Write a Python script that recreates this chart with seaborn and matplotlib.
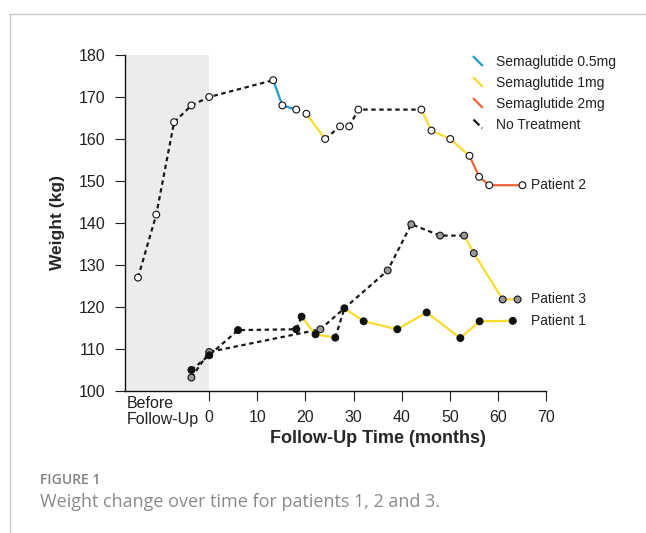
import pandas as pd
import matplotlib
matplotlib.use("Agg")
import matplotlib.pyplot as plt
import seaborn as sns
from matplotlib.lines import Line2D
from matplotlib.legend_handler import HandlerBase

# Weight (kg) per visit; months < 0 are the "before follow-up" visits.
# treat = treatment on each interval between two visits (None = no line drawn)
p1_months = [-3.7, 0, 6.0, 18.1, 19.2, 22.1, 26.2, 28.1, 32.1, 39.1, 45.2, 52.2, 56.2, 63.1]
p1_weight = [105, 108.5, 114.5, 114.7, 117.7, 113.5, 112.7, 119.7, 116.6, 114.7, 118.7, 112.6, 116.6, 116.7]
p1_treat = ["none", "none", "none", "none", "1mg", "1mg", "none",
            "1mg", "1mg", "1mg", "1mg", "1mg", "1mg"]

p2_months = [-14.8, -11.0, -7.3, -3.7, 0, 13.3, 15.2, 18.1, 20.2, 24.1, 27.2, 29.1,
             31.0, 44.1, 46.2, 50.1, 54.1, 56.1, 58.2, 65.1]
p2_weight = [127, 142, 164, 168, 170, 174, 168, 167, 166, 160, 163, 163,
             167, 167, 162, 160, 156, 151, 149, 149]
p2_treat = ["none", "none", "none", "none", "none", "0.5mg", "0.5mg", None, "1mg",
            "none", None, "none", "none", "1mg", "1mg", "1mg", "2mg", "2mg", "2mg"]

p3_months = [-3.7, 0, 23.1, 37.1, 42.0, 48.0, 53.0, 55.0, 61.0, 64.1]
p3_weight = [103.2, 109.3, 114.7, 128.7, 139.7, 137.0, 137.0, 132.8, 121.8, 121.8]
p3_treat = ["none", "none", "none", "none", "none", "none", "1mg", "1mg", "1mg"]

patients = [("Patient 2", p2_months, p2_weight, p2_treat),
            ("Patient 3", p3_months, p3_weight, p3_treat),
            ("Patient 1", p1_months, p1_weight, p1_treat)]

treat_colors = {"0.5mg": "#1d9ad6", "1mg": "#f9dc2c", "2mg": "#ef6536", "none": "#1a1a1a"}
treat_dashes = {"0.5mg": "", "1mg": "", "2mg": "", "none": (2, 1.6)}
treat_labels = {"0.5mg": "Semaglutide 0.5mg", "1mg": "Semaglutide 1mg",
                "2mg": "Semaglutide 2mg", "none": "No Treatment"}
marker_faces = {"Patient 1": "#111111", "Patient 2": "#ffffff", "Patient 3": "#9a9a9a"}

# build line segments (one unit per run of same treatment)
rows = []
unit = 0
for name, m, w, t in patients:
    prev = None
    for i, tr in enumerate(t):
        if tr is None:
            prev = None
            continue
        if tr != prev:
            unit += 1
            rows.append((name, unit, tr, m[i], w[i]))
        rows.append((name, unit, tr, m[i + 1], w[i + 1]))
        prev = tr
seg = pd.DataFrame(rows, columns=["patient", "unit", "treat", "month", "weight"])

pts = pd.concat([pd.DataFrame({"patient": n, "month": m, "weight": w})
                 for n, m, w, _ in patients], ignore_index=True)

sns.set_style("ticks")
plt.rcParams["font.family"] = ["Liberation Sans", "DejaVu Sans"]

fig = plt.figure(figsize=(6.46, 5.33), dpi=100)
ax = fig.add_axes([125 / 646, 1 - 391 / 533, 421 / 646, 336 / 533])

ax.axvspan(-17.5, 0, color="#ececeb", lw=0, zorder=0)

sns.lineplot(data=seg, x="month", y="weight", hue="treat", style="treat",
             units="unit", estimator=None, sort=False, palette=treat_colors,
             dashes=treat_dashes, linewidth=1.6, legend=False, ax=ax, zorder=2)
sns.scatterplot(data=pts, x="month", y="weight", hue="patient", palette=marker_faces,
                edgecolor="#111111", linewidth=0.8, s=24, legend=False, ax=ax, zorder=5)

# patient labels to the right of the last visit
lbl_x = max(m[-1] for _, m, _, _ in patients)
for name, m, w, _ in patients:
    ax.annotate(name, xy=(lbl_x, w[-1]), xytext=(6, 0), textcoords="offset points",
                ha="left", va="center", fontsize=10, color="#222222")

ax.set_xlim(-17.5, 70)
ax.set_ylim(100, 180)
ax.set_xticks(range(0, 71, 10))
ax.set_yticks(range(100, 181, 10))
ax.tick_params(axis="both", labelsize=11.5, length=7, width=0.8, colors="#222222",
               direction="out")
ax.tick_params(axis="y", pad=7)
ax.tick_params(axis="x", pad=7)
for s in ["top", "right"]:
    ax.spines[s].set_visible(False)
for s in ["left", "bottom"]:
    ax.spines[s].set_linewidth(1.0)
    ax.spines[s].set_color("#111111")

ax.annotate("Before\nFollow-Up", xy=(-17.5, 0), xycoords=("data", "axes fraction"),
            xytext=(1, -3.5), textcoords="offset points", ha="left", va="top",
            fontsize=11.5, color="#222222", linespacing=1.12)

ax.set_xlabel("Follow-Up Time (months)", fontsize=13, fontweight="bold", labelpad=3)
ax.xaxis.label.set_x(0.6)
ax.set_ylabel("Weight (kg)", fontsize=12.5, fontweight="bold", labelpad=10)


class SlashHandler(HandlerBase):
    def create_artists(self, legend, orig_handle, xdescent, ydescent, width, height,
                       fontsize, trans):
        cx = -xdescent + width / 2
        cy = -ydescent + height / 2
        d = height * 0.45
        ln = Line2D([cx - d, cx + d], [cy + d, cy - d], color=orig_handle.get_color(),
                    linestyle=orig_handle.get_linestyle(), lw=orig_handle.get_linewidth(),
                    transform=trans)
        return [ln]


handles = [Line2D([], [], color=treat_colors[k], lw=1.6,
                  linestyle=(0, (1.2, 1.8)) if k == "none" else "-")
           for k in treat_labels]
leg = ax.legend(handles, list(treat_labels.values()), handler_map={Line2D: SlashHandler()},
                loc="upper left", bbox_to_anchor=(464 / 646, 1 - 48 / 533),
                bbox_transform=fig.transFigure, frameon=False, fontsize=10,
                handlelength=1.0, handletextpad=0.8, labelspacing=0.5, borderpad=0)
for t in leg.get_texts():
    t.set_color("#222222")

# page frame and caption
fig.add_artist(Line2D([9 / 646, 1], [1 - 13.5 / 533] * 2, transform=fig.transFigure,
                      color="#cccccc", lw=1))
fig.add_artist(Line2D([9.5 / 646] * 2, [0, 1 - 13.5 / 533], transform=fig.transFigure,
                      color="#cccccc", lw=1))
fig.text(40 / 646, 1 - 484 / 533, "FIGURE 1", family=["Open Sans", "DejaVu Sans"],
         fontweight="semibold", fontsize=10, color="#808080", va="baseline")
fig.text(40 / 646, 1 - 507 / 533, "Weight change over time for patients 1, 2 and 3.",
         family=["Open Sans", "DejaVu Sans"], fontsize=13, color="#8a8a8a", va="baseline")

fig.savefig("out.png", dpi=100)
